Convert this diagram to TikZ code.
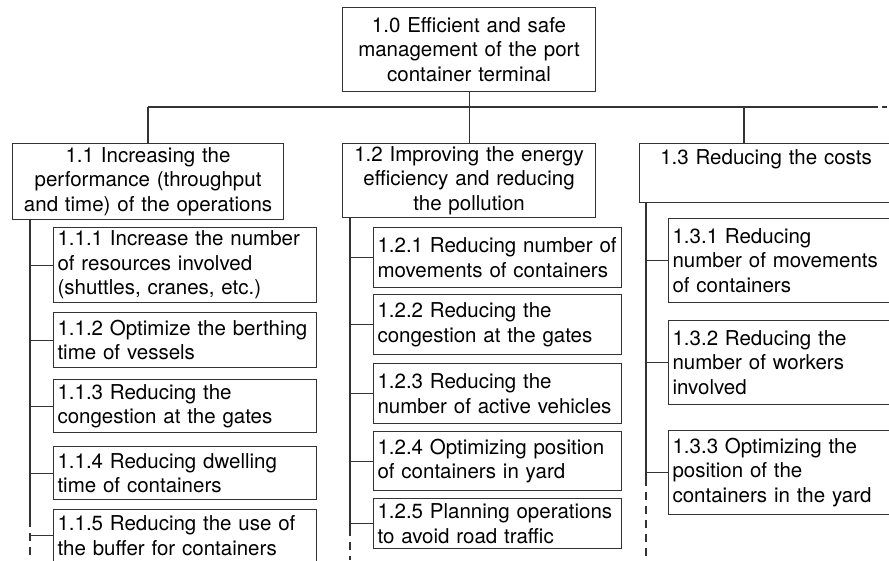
\documentclass[tikz,border=0pt]{standalone}
\usepackage{fontspec}
\setmainfont{TeX Gyre Heros}
\definecolor{edge}{HTML}{333333}
\begin{document}
\begin{tikzpicture}[x=1pt,y=-1pt,
  box/.style={draw=edge, line width=1.1pt, anchor=north west,
    inner xsep=4pt, inner ysep=0pt, text=black,
    font=\fontsize{20.5}{24.5}\selectfont},
  head/.style={box, align=center},
  leaf/.style={box, align=left},
  link/.style={draw=edge, line width=1.1pt},
  tail/.style={link, dash pattern=on 8pt off 6pt}]
\useasboundingbox (0,0) rectangle (889,560);
\clip (0,0) rectangle (889,560);

% goal and sub-goals
\node[head, text width=245pt, minimum height=84pt] (root) at (342,7)
  {1.0 Efficient and safe\\management of the port\\container terminal};
\node[head, text width=263pt, minimum height=76pt] (n11) at (12,143)
  {1.1 Increasing the\\performance (throughput\\and time) of the operations};
\node[head, text width=245pt, minimum height=74pt] (n12) at (342,143)
  {1.2 Improving the energy\\efficiency and reducing\\the pollution};
\node[head, text width=245pt, minimum height=59pt] (n13) at (639,143)
  {1.3 Reducing the costs\\\strut};

% actions under 1.1
\node[leaf, text width=255pt, minimum height=75pt] (n111) at (53,227)
  {1.1.1 Increase the number\\of resources involved\\(shuttles, cranes, etc.)};
\node[leaf, text width=255pt, minimum height=55pt] (n112) at (53,312)
  {1.1.2 Optimize the berthing\\time of vessels};
\node[leaf, text width=255pt, minimum height=53pt] (n113) at (53,379)
  {1.1.3 Reducing the\\congestion at the gates};
\node[leaf, text width=255pt, minimum height=53pt] (n114) at (53,446)
  {1.1.4 Reducing dwelling\\time of containers};
\node[leaf, text width=255pt, minimum height=52pt] (n115) at (53,509)
  {1.1.5 Reducing the use of\\the buffer for containers};

% actions under 1.2
\node[leaf, text width=240pt, minimum height=60pt] (n121) at (373,227)
  {1.2.1 Reducing number of\\movements of containers};
\node[leaf, text width=240pt, minimum height=60pt] (n122) at (373,294)
  {1.2.2 Reducing the\\congestion at the gates};
\node[leaf, text width=240pt, minimum height=60pt] (n123) at (373,363)
  {1.2.3 Reducing the\\number of active vehicles};
\node[leaf, text width=240pt, minimum height=59pt] (n124) at (373,431)
  {1.2.4 Optimizing position\\of containers in yard};
\node[leaf, text width=240pt, minimum height=50pt] (n125) at (373,498)
  {1.2.5 Planning operations\\to avoid road traffic};

% actions under 1.3
\node[leaf, text width=280pt, minimum height=84pt] (n131) at (668,218)
  {1.3.1 Reducing\\number of movements\\of containers};
\node[leaf, text width=280pt, minimum height=84pt] (n132) at (668,320)
  {1.3.2 Reducing the\\number of workers\\involved};
\node[leaf, text width=280pt, minimum height=84pt] (n133) at (668,430)
  {1.3.3 Optimizing the\\position of the\\containers in the yard};

% top bus
\coordinate (busL) at (148,107);
\coordinate (busR) at (873,107);
\coordinate (busEnd) at (889,107);
\coordinate (j3) at (744,107);
\draw[link] (busL) -- (busR);
\draw[link, dash pattern=on 5pt off 4pt] (busR) -- (busEnd);
\draw[link] (root.south) -- (root.south |- busL);
\draw[link] (busL) -- (busL |- n11.north);
\draw[link] (n12.north |- busL) -- (n12.north);
\draw[link] (j3) -- (j3 |- n13.north);

% spines and branches
\coordinate (s1) at (30,519);  \coordinate (s1e) at (30,560);
\coordinate (s2) at (350,528); \coordinate (s2e) at (350,560);
\coordinate (s3) at (646,478); \coordinate (s3e) at (646,560);
\draw[link] (s1 |- n11.south) -- (s1);
\draw[tail] (s1) -- (s1e);
\draw[link] (s2 |- n12.south) -- (s2);
\draw[tail] (s2) -- (s2e);
\draw[link] (s3 |- n13.south) -- (s3);
\draw[tail] (s3) -- (s3e);
\foreach \n in {n111,n112,n113,n114,n115}
  \draw[link] (s1 |- \n.west) -- (\n.west);
\foreach \n in {n121,n122,n123,n124,n125}
  \draw[link] (s2 |- \n.west) -- (\n.west);
\foreach \n in {n131,n132,n133}
  \draw[link] (s3 |- \n.west) -- (\n.west);
\end{tikzpicture}
\end{document}
